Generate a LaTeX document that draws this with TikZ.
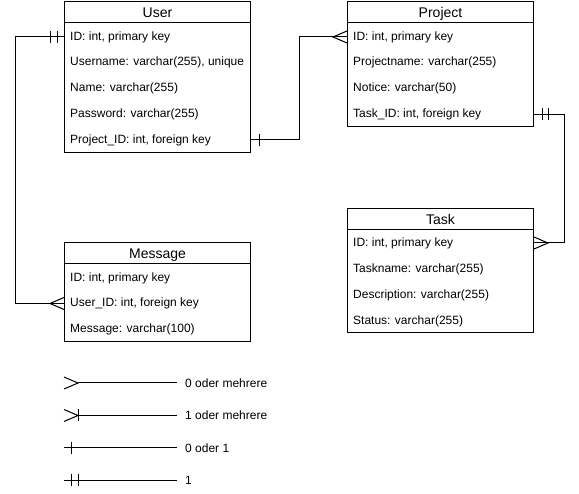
\documentclass[tikz,border=0pt]{standalone}
\usepackage{fontspec}
\setmainfont{Liberation Sans}
\usetikzlibrary{positioning,calc}

\begin{document}
\begin{tikzpicture}[
    x=1pt, y=-1pt,
    tbl/.style={draw, rectangle, minimum width=186pt, anchor=north west, inner sep=0pt, line width=1pt},
    tbltitle/.style={tbl, minimum height=21.5pt, text depth=0pt, font=\fontsize{14}{16}\selectfont},
    field/.style={anchor=west, inner sep=0pt, yshift=-1pt, font=\fontsize{12}{14}\selectfont},
    legendtext/.style={anchor=west, inner sep=0pt, inner xsep=8pt, font=\fontsize{12}{14}\selectfont},
    link/.style={line width=1pt},
    onebar/.pic={\draw[link] (0,-6) -- (0,6);},
    crowfoot/.pic={\draw[link] (0,-6) -- (-14,0) -- (0,6);}
]
    \useasboundingbox (0,0) rectangle (579,494);

    % Tables
    \node[tbl, minimum height=151pt] (user) at (64,1) {};
    \node[tbltitle] (userT) at (64,1) {User};
    \foreach \fld [count=\i] in {{ID: int, primary key}, {Username: varchar(255), unique}, {Name: varchar(255)}, {Password: varchar(255)}, {Project\_ID: int, foreign key}} {
        \node[field] (user\i) at (70, 10.25+25.75*\i) {\fld};
    }

    \node[tbl, minimum height=125pt] (proj) at (347,1) {};
    \node[tbltitle] (projT) at (347,1) {Project};
    \foreach \fld [count=\i] in {{ID: int, primary key}, {Projectname: varchar(255)}, {Notice: varchar(50)}, {Task\_ID: int, foreign key}} {
        \node[field] (proj\i) at (353, 10.25+25.75*\i) {\fld};
    }

    \node[tbl, minimum height=124pt] (task) at (347,208) {};
    \node[tbltitle] (taskT) at (347,208) {Task};
    \foreach \fld [count=\i] in {{ID: int, primary key}, {Taskname: varchar(255)}, {Description: varchar(255)}, {Status: varchar(255)}} {
        \node[field] (task\i) at (353, 216+26*\i) {\fld};
    }

    \node[tbl, minimum height=99pt] (msg) at (64,242) {};
    \node[tbltitle] (msgT) at (64,242) {Message};
    \foreach \fld [count=\i] in {{ID: int, primary key}, {User\_ID: int, foreign key}, {Message: varchar(100)}} {
        \node[field] (msg\i) at (70, 251.5+25.5*\i) {\fld};
    }

    % Relations
    \coordinate (uid) at (user1 -| user.west);
    \coordinate (mid) at (msg2 -| msg.west);
    \draw[link] (uid) -- ++(-49,0) |- (mid);
    \pic at ([xshift=-7pt]uid) {onebar};
    \pic at ([xshift=-14pt]uid) {onebar};
    \pic at (mid) {crowfoot};

    \coordinate (upid) at (user5 -| user.east);
    \coordinate (pid) at (proj1 -| proj.west);
    \draw[link] (upid) -- ++(48,0) |- (pid);
    \pic at ([xshift=8pt]upid) {onebar};
    \pic at (pid) {crowfoot};

    \coordinate (ptid) at (proj4 -| proj.east);
    \coordinate (tid) at (task1 -| task.east);
    \draw[link] (ptid) -- ++(30,0) |- (tid);
    \pic at ([xshift=8pt]ptid) {onebar};
    \pic at ([xshift=14pt]ptid) {onebar};
    \pic[rotate=180] at (tid) {crowfoot};

    % Legend
    \foreach \lbl [count=\i] in {0 oder mehrere, 1 oder mehrere, 0 oder 1, 1} {
        \node[legendtext] (leg\i) at (177, 350.5+32.5*\i) {\lbl};
        \coordinate (s\i) at (leg\i.west -| user.west);
    }
    \draw[link] ([xshift=14pt]s1) -- (leg1.west);
    \pic[rotate=180] at (s1) {crowfoot};
    \draw[link] ([xshift=14pt]s2) -- (leg2.west);
    \pic[rotate=180] at (s2) {crowfoot};
    \pic at ([xshift=14pt]s2) {onebar};
    \draw[link] (s3) -- (leg3.west);
    \pic at ([xshift=7pt]s3) {onebar};
    \draw[link] (s4) -- (leg4.west);
    \pic at ([xshift=7pt]s4) {onebar};
    \pic at ([xshift=14pt]s4) {onebar};
\end{tikzpicture}
\end{document}
